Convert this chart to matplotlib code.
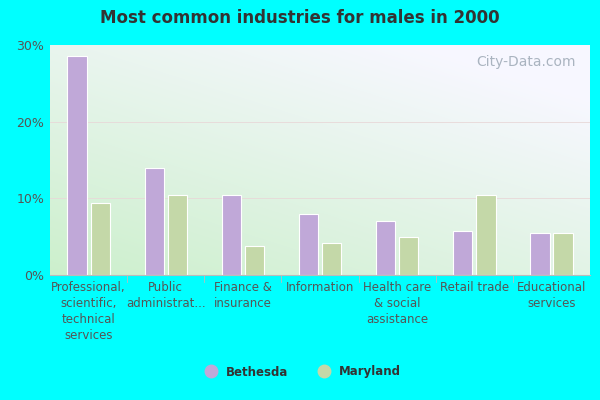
import matplotlib
matplotlib.use("Agg")
import matplotlib.pyplot as plt
from matplotlib.lines import Line2D
import numpy as np

categories = ["Professional,\nscientific,\ntechnical\nservices", "Public\nadministrat...",
              "Finance &\ninsurance", "Information", "Health care\n& social\nassistance",
              "Retail trade", "Educational\nservices"]
bethesda = [28.6, 14.0, 10.5, 8.0, 7.1, 5.7, 5.5]
maryland = [9.4, 10.5, 3.8, 4.2, 5.0, 10.5, 5.5]
yticks = [0, 10, 20, 30]
ytick_labels = ["0%", "10%", "20%", "30%"]

fig = plt.figure(figsize=(6, 4), dpi=100, facecolor="#00ffff")
ax = fig.add_axes([50/600, 1-275/400, 540/600, 230/400])
n = len(categories)
ax.set_xlim(-0.5, n-0.5)
ax.set_ylim(0, 30)

xx, yy = np.meshgrid(np.linspace(0, 1, 200), np.linspace(0, 1, 200))
t = np.clip((xx*0.6 + yy*0.8) / 1.2, 0, 1)
c0 = np.array([0.80, 0.94, 0.80]); c1 = np.array([0.97, 0.97, 1.0])
img = c0[None, None, :]*(1-t[..., None]) + c1[None, None, :]*t[..., None]
ax.imshow(img, extent=[-0.5, n-0.5, 0, 30], origin="lower", aspect="auto", zorder=0)

x = np.arange(n)
w = 0.25
ax.bar(x-0.15, bethesda, w, color="#c0a8d8", edgecolor="white", linewidth=0.8, zorder=2)
ax.bar(x+0.15, maryland, w, color="#c4d8a8", edgecolor="white", linewidth=0.8, zorder=2)

for v in [10, 20]:
    ax.axhline(v, color="#e8d8d8", linewidth=0.6, zorder=1)
for b in np.arange(0.5, n-0.5):
    ax.axvline(b, ymin=-0.03, ymax=0, color="#bbbbbb", linewidth=0.6, clip_on=False)

ax.set_yticks(yticks)
ax.set_yticklabels(ytick_labels, color="#555555", fontsize=9)
ax.set_xticks(x)
ax.set_xticklabels(categories, color="#555555", fontsize=8.5, linespacing=1.3)
ax.tick_params(length=0, pad=4)
for s in ["top", "right", "left"]:
    ax.spines[s].set_visible(False)
ax.spines["bottom"].set_color("#bbbbbb")

fig.text(0.5, 1-18/400, "Most common industries for males in 2000", ha="center", va="center",
         fontsize=12, fontweight="bold", color="#333333")
fig.text(0.96, 1-62/400, "City-Data.com", ha="right", va="center", fontsize=10, color="#aab4c0")

handles = [Line2D([], [], marker="o", ls="", markersize=9, color="#c0a8d8", label="Bethesda"),
           Line2D([], [], marker="o", ls="", markersize=9, color="#c4d8a8", label="Maryland")]
leg = fig.legend(handles=handles, loc="center", bbox_to_anchor=(0.5, 1-372/400), ncol=2, frameon=False,
                 handletextpad=0.3, fontsize=8.5, columnspacing=2)
for txt in leg.get_texts():
    txt.set_fontweight("bold"); txt.set_color("#333333")

fig.savefig("out.png", dpi=100, facecolor=fig.get_facecolor())
